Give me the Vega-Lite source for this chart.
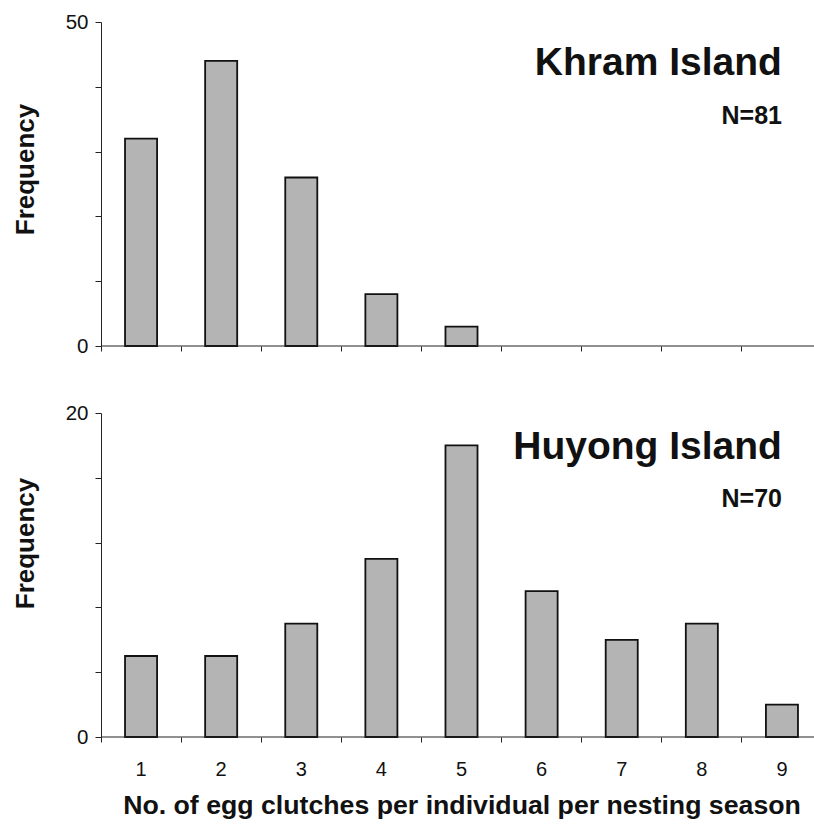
{
  "$schema": "https://vega.github.io/schema/vega-lite/v6.json",
  "autosize": {"type": "pad"},
  "padding": {"left": 12, "top": 12, "right": 0, "bottom": 4},
  "background": "white",
  "config": {
    "view": {"stroke": null},
    "font": "Liberation Sans",
    "axis": {
      "domainColor": "#222",
      "tickColor": "#222",
      "labelColor": "#111",
      "titleColor": "#111",
      "labelFont": "Liberation Sans",
      "titleFont": "Liberation Sans",
      "grid": false
    }
  },
  "datasets": {
    "khram": [
      {"clutches": 1, "frequency": 32},
      {"clutches": 2, "frequency": 44},
      {"clutches": 3, "frequency": 26},
      {"clutches": 4, "frequency": 8},
      {"clutches": 5, "frequency": 3}
    ],
    "huyong": [
      {"clutches": 1, "frequency": 5},
      {"clutches": 2, "frequency": 5},
      {"clutches": 3, "frequency": 7},
      {"clutches": 4, "frequency": 11},
      {"clutches": 5, "frequency": 18},
      {"clutches": 6, "frequency": 9},
      {"clutches": 7, "frequency": 6},
      {"clutches": 8, "frequency": 7},
      {"clutches": 9, "frequency": 2}
    ]
  },
  "bounds": "flush",
  "spacing": 67,
  "vconcat": [
    {
      "width": 714,
      "height": 324,
      "layer": [
        {
          "data": {"name": "khram"},
          "mark": {"type": "bar", "width": {"band": 0.4}, "fill": "#b4b4b4", "stroke": "#111", "strokeWidth": 1.8},
          "encoding": {
            "x": {
              "field": "clutches", "type": "ordinal",
              "scale": {"domain": [1, 2, 3, 4, 5, 6, 7, 8, 9], "paddingInner": 0, "paddingOuter": 0, "range": [0, 721]},
              "axis": {"title": null, "labels": false, "domain": false, "ticks": true, "tickSize": 5, "bandPosition": 0}
            },
            "y": {
              "field": "frequency", "type": "quantitative",
              "scale": {"domain": [0, 50], "nice": false},
              "axis": {
                "title": "Frequency", "titleFontSize": 26, "titleFontWeight": "bold", "titleY": 147,
                "values": [0, 5, 10, 15, 20, 25, 30, 35, 40, 45, 50],
                "labelExpr": "datum.value % 25 === 0 ? datum.label : ''",
                "labelFontSize": 20.5, "labelPadding": 7, "tickSize": 6, "titlePadding": 27
              }
            }
          }
        },
        {
          "data": {"values": [{}]},
          "mark": {"type": "rule", "color": "#222", "strokeWidth": 1.2},
          "encoding": {"y": {"datum": 0, "type": "quantitative"}}
        },
        {
          "data": {"values": [{}]},
          "mark": {"type": "text", "align": "right", "baseline": "alphabetic", "fontSize": 39, "fontWeight": "bold", "color": "#111"},
          "encoding": {"x": {"datum": 9, "type": "ordinal"}, "y": {"datum": 41.8, "type": "quantitative"}, "text": {"value": "Khram Island"}}
        },
        {
          "data": {"values": [{}]},
          "mark": {"type": "text", "align": "right", "baseline": "alphabetic", "fontSize": 25, "fontWeight": "bold", "color": "#111"},
          "encoding": {"x": {"datum": 9, "type": "ordinal"}, "y": {"datum": 34.2, "type": "quantitative"}, "text": {"value": "N=81"}}
        }
      ]
    },
    {
      "width": 714,
      "height": 324,
      "layer": [
        {
          "data": {"name": "huyong"},
          "mark": {"type": "bar", "width": {"band": 0.4}, "fill": "#b4b4b4", "stroke": "#111", "strokeWidth": 1.8},
          "encoding": {
            "x": {
              "field": "clutches", "type": "ordinal",
              "scale": {"domain": [1, 2, 3, 4, 5, 6, 7, 8, 9], "paddingInner": 0, "paddingOuter": 0, "range": [0, 721]},
              "axis": {
                "title": "No. of egg clutches per individual per nesting season",
                "titleFontSize": 26.7, "titleFontWeight": "bold", "titlePadding": 13,
                "labelAngle": 0, "labelFontSize": 20, "labelPadding": 17,
                "domain": false, "tickSize": 5, "bandPosition": 0
              }
            },
            "y": {
              "field": "frequency", "type": "quantitative",
              "scale": {"domain": [0, 20], "nice": false},
              "axis": {
                "title": "Frequency", "titleFontSize": 26, "titleFontWeight": "bold", "titleY": 130,
                "values": [0, 2, 4, 6, 8, 10, 12, 14, 16, 18, 20],
                "labelExpr": "datum.value % 10 === 0 ? datum.label : ''",
                "labelFontSize": 20.5, "labelPadding": 7, "tickSize": 6, "titlePadding": 27
              }
            }
          }
        },
        {
          "data": {"values": [{}]},
          "mark": {"type": "rule", "color": "#222", "strokeWidth": 1.2},
          "encoding": {"y": {"datum": 0, "type": "quantitative"}}
        },
        {
          "data": {"values": [{}]},
          "mark": {"type": "text", "align": "right", "baseline": "alphabetic", "fontSize": 39, "fontWeight": "bold", "color": "#111"},
          "encoding": {"x": {"datum": 9, "type": "ordinal"}, "y": {"datum": 17.15, "type": "quantitative"}, "text": {"value": "Huyong Island"}}
        },
        {
          "data": {"values": [{}]},
          "mark": {"type": "text", "align": "right", "baseline": "alphabetic", "fontSize": 25, "fontWeight": "bold", "color": "#111"},
          "encoding": {"x": {"datum": 9, "type": "ordinal"}, "y": {"datum": 14.2, "type": "quantitative"}, "text": {"value": "N=70"}}
        }
      ]
    }
  ]
}
